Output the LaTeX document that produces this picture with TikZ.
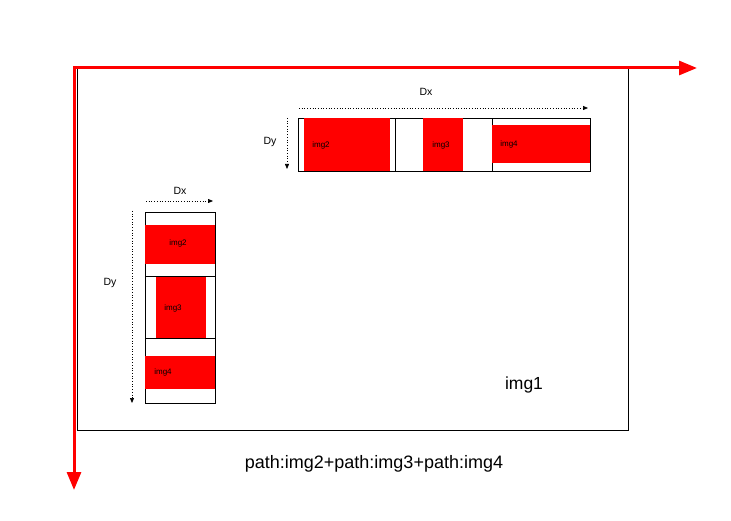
\documentclass[tikz,border=0pt]{standalone}
\usepackage{fontspec}
\setmainfont{Liberation Sans}
\usetikzlibrary{arrows.meta, positioning}

\begin{document}
\begin{tikzpicture}[x=1pt, y=-1pt,
  frame/.style={draw, line width=0.9pt, inner sep=0pt, outer sep=0pt, anchor=north west},
  redbox/.style={fill=red, inner sep=0pt, outer sep=0pt, anchor=north west},
  lbl/.style={font=\fontsize{8}{9}\selectfont, inner sep=0pt},
  dimlbl/.style={font=\fontsize{10.5}{12}\selectfont, inner sep=0pt},
  measure/.style={dotted, line width=0.7pt, -{Triangle[length=5pt, width=4pt]}},
  axis/.style={red, line width=3pt, line cap=rect, -{Triangle[length=18pt, width=14pt]}}
]
  \useasboundingbox (0,0) rectangle (731,521);

  % main image
  \node[frame, minimum width=551pt, minimum height=362pt] (img1) at (77,68) {};
  \node[font=\fontsize{17.5}{20}\selectfont] (img1lbl) at (524,385) {img1};

  % horizontal strip
  \node[frame, minimum width=97pt, minimum height=53pt] (hs1) at (298,118) {};
  \node[frame, minimum width=97pt, minimum height=53pt, right=0pt of hs1.north east, anchor=north west] (hs2) {};
  \node[frame, minimum width=98pt, minimum height=53pt, right=0pt of hs2.north east, anchor=north west] (hs3) {};
  \node[redbox, minimum width=86pt, minimum height=53pt] (himg2) at (304,118) {};
  \node[redbox, minimum width=40pt, minimum height=53pt] (himg3) at (423,118) {};
  \node[redbox, minimum width=98pt, minimum height=38pt] (himg4) at (492,125) {};
  \node[lbl] (himg2lbl) at (321,145) {img2};
  \node[lbl] (himg3lbl) at (441,145) {img3};
  \node[lbl] (himg4lbl) at (509,144) {img4};

  % vertical strip
  \node[frame, minimum width=70pt, minimum height=64pt] (vs1) at (145,212) {};
  \node[frame, minimum width=70pt, minimum height=62pt, below=0pt of vs1.south west, anchor=north west] (vs2) {};
  \node[frame, minimum width=70pt, minimum height=65pt, below=0pt of vs2.south west, anchor=north west] (vs3) {};
  \node[redbox, minimum width=70pt, minimum height=39pt] (vimg2) at (145,225) {};
  \node[redbox, minimum width=50pt, minimum height=61pt] (vimg3) at (156,277) {};
  \node[redbox, minimum width=70pt, minimum height=33pt] (vimg4) at (145,356) {};
  \node[lbl] (vimg2lbl) at (178,243) {img2};
  \node[lbl] (vimg3lbl) at (173,308) {img3};
  \node[lbl] (vimg4lbl) at (163,372) {img4};

  % displacements
  \draw[measure] ([xshift=1pt, yshift=10pt]hs1.north west) -- ([xshift=-2pt, yshift=10pt]hs3.north east);
  \draw[measure] ([xshift=-11pt]hs1.north west) -- ([xshift=-11pt, yshift=2pt]hs1.south west);
  \node[dimlbl] (hdx) at (426,92) {Dx};
  \node[dimlbl] (hdy) at (270,142) {Dy};
  \draw[measure] ([xshift=1pt, yshift=11pt]vs1.north west) -- ([xshift=-2pt, yshift=11pt]vs1.north east);
  \draw[measure] ([xshift=-13pt, yshift=1pt]vs1.north west) -- ([xshift=-13pt]vs3.south west);
  \node[dimlbl] (vdx) at (180,191) {Dx};
  \node[dimlbl] (vdy) at (110,283) {Dy};

  % axes
  \coordinate (origin) at (74,68);
  \coordinate (xend) at (697,68);
  \coordinate (yend) at (74,490);
  \draw[axis] (origin) -- (xend);
  \draw[axis] (origin) -- (yend);

  \node[font=\fontsize{18}{21}\selectfont] (caption) at (374,464) {path:img2+path:img3+path:img4};
\end{tikzpicture}
\end{document}
